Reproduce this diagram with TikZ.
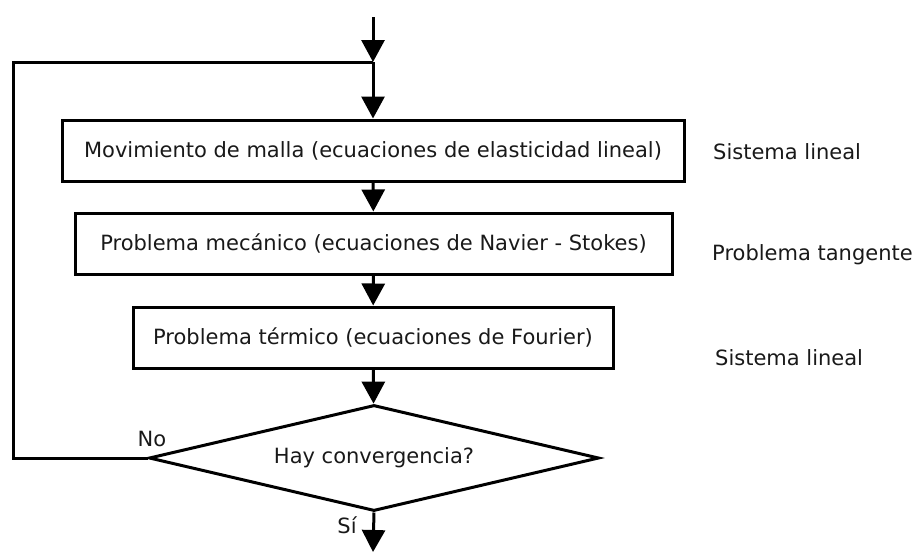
\documentclass[tikz,border=0pt]{standalone}
\usepackage{fontspec}
\setmainfont{DejaVu Sans}
\usetikzlibrary{arrows.meta,shapes.geometric}
\begin{document}
\begin{tikzpicture}[x=1pt,y=-1pt,
  every node/.style={font=\fontsize{21}{25}\selectfont, text=black!90},
  stepbox/.style={draw, line width=3pt, inner sep=0pt, minimum height=61pt},
  flow/.style={line width=3pt, -{Triangle[width=23pt,length=22pt]}},
  plain/.style={line width=3pt},
  note/.style={anchor=west, inner sep=0pt}]
\useasboundingbox (0,0) rectangle (916,552);
\coordinate (top) at (373,17);
\coordinate (j) at (373,62);
\coordinate (L) at (13,62);
\coordinate (bot) at (373,552);
\node[stepbox, minimum width=622pt] (b1) at (373,150.5) {Movimiento de malla (ecuaciones de elasticidad lineal)};
\node[stepbox, minimum width=597pt] (b2) at (373.5,243.5) {Problema mecánico (ecuaciones de Navier - Stokes)};
\node[stepbox, minimum width=480pt] (b3) at (373,337.5) {Problema térmico (ecuaciones de Fourier)};
\node[draw, diamond, line width=3pt, inner sep=0pt, minimum width=450pt, minimum height=106pt, aspect=4.25] (d) at (374,458) {Hay convergencia?};
\node[note] (n1) at (713,152) {Sistema lineal};
\node[note] (n2) at (712,255) {Problema tangente};
\node[note] (n3) at (715,358) {Sistema lineal};
\node[inner sep=0pt] (no) at (152,439) {No};
\node[inner sep=0pt] (si) at (347,525) {Sí};
\draw[flow] (top) -- (j);
\draw[flow] (j) -- (b1.north);
\draw[flow] (b1) -- (b2);
\draw[flow] (b2) -- (b3);
\draw[flow] (b3) -- (d);
\draw[flow] (d.south) -- (bot);
\draw[plain, line join=miter] (d.west) -| (L) -- (j);
\end{tikzpicture}
\end{document}
